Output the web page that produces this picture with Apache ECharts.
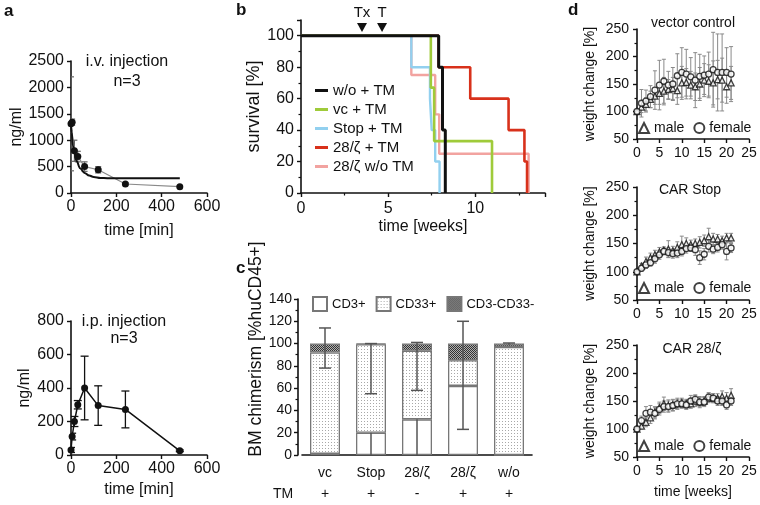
<!DOCTYPE html>
<html><head><meta charset="utf-8">
<script src="https://cdn.jsdelivr.net/npm/echarts@6/dist/echarts.min.js"></script>
<style>html,body{margin:0;padding:0;background:#fff}#c{width:760px;height:505px}</style>
</head><body><div id="c"></div>
<script>
// ---------- Panel a : pharmacokinetics ----------
const ivTime = [0, 5, 15, 30, 60, 120, 240, 480];
const ivConc = [1310, 1340, 800, 690, 500, 440, 170, 120];
const ivErr  = [890, 60, 200, 100, 90, 60, 20, 10];
const ivFitTime = [0, 3, 8, 15, 25, 40, 60, 80, 100, 130, 160, 200, 480];
const ivFitConc = [1310, 1150, 900, 750, 600, 470, 380, 330, 305, 285, 280, 278, 278];
const ipTime = [0, 5, 15, 30, 60, 120, 240, 480];
const ipConc = [30, 110, 200, 300, 400, 295, 272, 25];
const ipErr  = [15, 20, 30, 25, 190, 118, 110, 5];

// ---------- Panel b : survival ----------
const woWeeks = [0, 7.9, 8.12, 8.28];          const woSurv = [100, 80, 40, 0];
const vcWeeks = [0, 7.45, 7.64, 10.96];        const vcSurv = [100, 67, 33, 0];
const stopWeeks = [0, 6.33, 7.4, 7.5, 7.7, 7.95]; const stopSurv = [100, 80, 60, 40, 20, 0];
const car28Weeks = [0, 7.9, 9.71, 11.91, 12.82, 12.97]; const car28Surv = [100, 80, 60, 40, 20, 0];
const car28noWeeks = [0, 6.33, 7.7, 7.93, 13.06]; const car28noSurv = [100, 75, 50, 25, 0];
const bMarkers = ['Tx', 'T'];
const bMarkerWeeks = [3.5, 4.65];

// ---------- Panel c : BM chimerism ----------
const cCategories = ['vc', 'Stop', '28/ζ', '28/ζ', 'w/o'];
const cTM = ['+', '+', '-', '+', '+'];
const cCD3 = [1, 20, 32, 62, 0];
const cCD33 = [91, 79.5, 61.5, 23, 97];
const cNeg = [8, 0.5, 6.5, 15, 3];
// error bars: [category index, low, high, cap at low, cap at high]
const cErrors = [[0, 78, 114, 1, 1], [1, 0, 20, 0, 0], [1, 55, 100, 1, 1], [2, 0, 32, 0, 0], [2, 58, 101, 1, 1], [3, 23, 120, 1, 1], [4, 99, 100.5, 0, 1]];

// ---------- Panel d : weight change ----------
const dWeeks = [0,1,2,3,4,5,6,7,8,9,10,11,12,13,14,15,16,17,18,19,20,21];
const vcMale      = [100,108,113,122,128,133,137,140,142,138,152,153,148,145,150,157,155,152,158,157,145,152];
const vcMaleErr   = [3,10,12,15,15,20,25,18,20,25,30,25,25,25,30,30,30,40,35,40,30,30];
const vcFemale    = [100,115,119,127,139,148,155,148,150,165,171,168,163,157,164,166,168,176,171,171,171,168];
const vcFemaleErr = [3,25,20,20,35,45,40,25,30,40,45,45,35,50,40,35,40,68,70,70,45,50];
const stopMale      = [100,110,118,125,130,135,138,140,137,143,148,150,148,150,152,155,162,158,158,155,160,160];
const stopMaleErr   = [2,5,8,8,8,8,6,15,8,10,15,10,8,8,10,10,15,10,8,8,8,8];
const stopFemale    = [100,106,112,116,123,130,136,134,132,133,136,141,142,139,125,131,145,140,143,148,136,142];
const stopFemaleErr = [2,5,6,6,8,8,6,8,8,8,8,8,6,10,12,10,10,8,8,8,15,8];
const c28Male      = [100,105,112,120,130,138,145,142,143,145,147,145,145,150,148,150,155,155,155,158,155,160];
const c28MaleErr   = [2,5,8,10,10,10,12,10,10,10,8,8,8,10,10,8,8,8,8,10,10,12];
const c28Female    = [100,115,128,130,128,135,140,140,142,145,145,143,150,153,148,148,157,155,150,150,143,150];
const c28FemaleErr = [2,8,12,12,10,10,10,10,10,8,8,8,10,8,8,8,8,8,8,8,8,8];
const dTitles = ['vector control', 'CAR Stop', 'CAR 28/ζ'];

// ---------- helpers ----------
const FF = '"Liberation Sans", Arial, sans-serif';
const K = '#111';
const zip = (xs, ys) => xs.map((x, i) => [x, ys[i]]);
const plain = v => String(v);

function mkAxis(o) {
  const fs = o.fs || 15;
  const a = {
    type: o.type || 'value', gridIndex: o.grid,
    min: o.min, max: o.max, interval: o.interval,
    axisLine: {show: true, onZero: false, lineStyle: {color: K, width: 1.6}},
    axisTick: {show: o.tick !== false, length: 4, inside: false, lineStyle: {color: K, width: 1.4}},
    axisLabel: {color: K, fontFamily: FF, fontSize: fs, margin: o.margin || 6, formatter: o.formatter || plain},
    splitLine: {show: false},
    name: o.name || '', nameLocation: 'middle', nameGap: o.nameGap || 30,
    nameTextStyle: {color: K, fontFamily: FF, fontSize: o.nfs || 16}
  };
  if (o.namePad) a.nameTextStyle.padding = o.namePad;
  if (o.minor) a.minorTick = {show: true, splitNumber: o.minor, length: 2.5, lineStyle: {color: K, width: 1.2}};
  if (o.data) a.data = o.data;
  if (o.extraLabel) Object.assign(a.axisLabel, o.extraLabel);
  if (o.offset) a.offset = o.offset;
  return a;
}

function errSeries(axisIdx, xs, ys, es, color, cap, lw) {
  return {
    type: 'custom', xAxisIndex: axisIdx, yAxisIndex: axisIdx, z: 2, silent: true, clip: true,
    data: xs.map((x, i) => [x, ys[i], es[i]]),
    encode: {x: 0, y: 1},
    renderItem: function (params, api) {
      const x = api.value(0), y = api.value(1), e = api.value(2);
      const t = api.coord([x, y + e]), b = api.coord([x, y - e]);
      const st = {stroke: color, lineWidth: lw};
      return {type: 'group', children: [
        {type: 'line', shape: {x1: t[0], y1: t[1], x2: b[0], y2: b[1]}, style: st},
        {type: 'line', shape: {x1: t[0] - cap, y1: t[1], x2: t[0] + cap, y2: t[1]}, style: st},
        {type: 'line', shape: {x1: b[0] - cap, y1: b[1], x2: b[0] + cap, y2: b[1]}, style: st}
      ]};
    }
  };
}

function makePattern(size, draw) {
  const cv = document.createElement('canvas');
  cv.width = size; cv.height = size;
  draw(cv.getContext('2d'));
  return {image: cv, repeat: 'repeat'};
}
const dotPattern = makePattern(3, ctx => {
  ctx.fillStyle = '#fff'; ctx.fillRect(0, 0, 3, 3);
  ctx.fillStyle = '#a8a8a8'; ctx.fillRect(1, 1, 1, 1);
});
const densePattern = makePattern(2, ctx => {
  ctx.fillStyle = '#b0b0b0'; ctx.fillRect(0, 0, 2, 2);
  ctx.fillStyle = '#333'; ctx.fillRect(0, 0, 1, 1); ctx.fillRect(1, 1, 1, 1);
});

// ---------- layout ----------
const grids = [
  {left: 71, top: 61, width: 136, height: 132},   // a top
  {left: 71, top: 321, width: 136, height: 134},  // a bottom
  {left: 301, top: 20, width: 244, height: 173},  // b
  {left: 302, top: 299, width: 230, height: 156}, // c
  {left: 637, top: 29, width: 112, height: 110},  // d1
  {left: 637, top: 187, width: 112, height: 113}, // d2
  {left: 637, top: 345, width: 112, height: 112}  // d3
];

const xAxes = [
  mkAxis({grid: 0, min: 0, max: 600, interval: 200, name: 'time [min]', nameGap: 30, fs: 16}),
  mkAxis({grid: 1, min: 0, max: 600, interval: 200, name: 'time [min]', nameGap: 27, fs: 16}),
  mkAxis({grid: 2, min: 0, max: 14, interval: 5, minor: 2, name: 'time [weeks]', nameGap: 26, fs: 16, margin: 8,
          formatter: v => (v % 5 === 0 ? String(v) : '')}),
  mkAxis({grid: 3, type: 'category', data: cCategories, tick: false, fs: 14, margin: 8,
          formatter: (v, i) => v + '\n' + cTM[i], extraLabel: {lineHeight: 21}}),
  mkAxis({grid: 4, min: 0, max: 25, interval: 5, fs: 14, margin: 7}),
  mkAxis({grid: 5, min: 0, max: 25, interval: 5, fs: 14, margin: 7}),
  mkAxis({grid: 6, min: 0, max: 25, interval: 5, fs: 14, margin: 7, name: 'time [weeks]', nameGap: 28, nfs: 14})
];
const yAxes = [
  mkAxis({grid: 0, min: 0, max: 2500, interval: 500, name: 'ng/ml', nameGap: 44, fs: 16, margin: 7}),
  mkAxis({grid: 1, min: 0, max: 800, interval: 200, name: 'ng/ml', nameGap: 38, fs: 16, margin: 7}),
  mkAxis({grid: 2, min: 0, max: 110, interval: 20, minor: 2, name: 'survival [%]', nameGap: 36, fs: 16, nfs: 18, margin: 7,
          formatter: v => (v <= 100 ? String(v) : '')}),
  mkAxis({grid: 3, min: 0, max: 140, interval: 20, minor: 2, name: 'BM chimerism [%huCD45+]', nameGap: 26, fs: 14, nfs: 17.5, margin: 6, offset: 4,
          namePad: [0, 0, 0, 56]}),
  mkAxis({grid: 4, min: 50, max: 250, interval: 50, minor: 2, name: 'weight change [%]', nameGap: 40, fs: 14, nfs: 14, margin: 8}),
  mkAxis({grid: 5, min: 50, max: 250, interval: 50, minor: 2, name: 'weight change [%]', nameGap: 40, fs: 14, nfs: 14, margin: 8}),
  mkAxis({grid: 6, min: 50, max: 250, interval: 50, minor: 2, name: 'weight change [%]', nameGap: 40, fs: 14, nfs: 14, margin: 8})
];

const series = [];
// a top
series.push(errSeries(0, ivTime, ivConc, ivErr, '#666', 3, 1.2));
series.push({type: 'line', xAxisIndex: 0, yAxisIndex: 0, data: zip(ivTime, ivConc), z: 3,
  lineStyle: {color: '#8a8a8a', width: 1.2}, symbol: 'circle', symbolSize: 7, itemStyle: {color: K}});
series.push({type: 'line', xAxisIndex: 0, yAxisIndex: 0, data: zip(ivFitTime, ivFitConc), z: 4,
  smooth: 0.4, smoothMonotone: 'x', showSymbol: false, lineStyle: {color: K, width: 2}});
// a bottom
series.push(errSeries(1, ipTime, ipConc, ipErr, K, 4, 1.3));
series.push({type: 'line', xAxisIndex: 1, yAxisIndex: 1, data: zip(ipTime, ipConc), z: 3,
  lineStyle: {color: K, width: 1.5}, symbol: 'circle', symbolSize: 7, itemStyle: {color: K}});
// b
function survLine(name, xs, ys, color, w) {
  return {type: 'line', name: name, xAxisIndex: 2, yAxisIndex: 2, data: zip(xs, ys), step: 'end',
    showSymbol: false, lineStyle: {color: color, width: w}, itemStyle: {color: color}};
}
series.push(survLine('28/ζ w/o TM', car28noWeeks, car28noSurv, '#f2a3a0', 2.4));
series.push(survLine('28/ζ + TM', car28Weeks, car28Surv, '#d8311b', 2.6));
series.push(survLine('Stop + TM', stopWeeks, stopSurv, '#92d0ef', 2.4));
series.push(survLine('vc + TM', vcWeeks, vcSurv, '#9fcb3a', 2.6));
series.push(survLine('w/o + TM', woWeeks, woSurv, '#111', 3));
// c
const barBase = {type: 'bar', xAxisIndex: 3, yAxisIndex: 3, stack: 'bm', barWidth: 30};
series.push(Object.assign({}, barBase, {name: 'CD3+', data: cCD3, itemStyle: {color: '#fff', borderColor: '#777', borderWidth: 1.3}}));
series.push(Object.assign({}, barBase, {name: 'CD33+', data: cCD33, itemStyle: {color: dotPattern, borderColor: '#777', borderWidth: 1.3}}));
series.push(Object.assign({}, barBase, {name: 'CD3-CD33-', data: cNeg, itemStyle: {color: densePattern, borderColor: '#777', borderWidth: 1.3}}));
series.push({type: 'custom', xAxisIndex: 3, yAxisIndex: 3, z: 5, silent: true, data: cErrors,
  encode: {x: 0, y: [1, 2]},
  renderItem: function (params, api) {
    const i = api.value(0);
    const lo = api.coord([i, api.value(1)]), hi = api.coord([i, api.value(2)]);
    const st = {stroke: '#555', lineWidth: 1.5};
    const ch = [{type: 'line', shape: {x1: lo[0], y1: lo[1], x2: hi[0], y2: hi[1]}, style: st}];
    if (api.value(3)) ch.push({type: 'line', shape: {x1: lo[0] - 6, y1: lo[1], x2: lo[0] + 6, y2: lo[1]}, style: st});
    if (api.value(4)) ch.push({type: 'line', shape: {x1: hi[0] - 6, y1: hi[1], x2: hi[0] + 6, y2: hi[1]}, style: st});
    return {type: 'group', children: ch};
  }});
// d
const dSets = [[vcMale, vcMaleErr, vcFemale, vcFemaleErr], [stopMale, stopMaleErr, stopFemale, stopFemaleErr], [c28Male, c28MaleErr, c28Female, c28FemaleErr]];
dSets.forEach((s, k) => {
  const ax = 4 + k;
  series.push(errSeries(ax, dWeeks, s[0], s[1], '#8a8a8a', 2, 1));
  series.push(errSeries(ax, dWeeks, s[2], s[3], '#8a8a8a', 2, 1));
  series.push({type: 'scatter', name: 'male', xAxisIndex: ax, yAxisIndex: ax, data: zip(dWeeks, s[0]), z: 3,
    symbol: 'triangle', symbolSize: 6, itemStyle: {color: '#fff', borderColor: K, borderWidth: 1.3}});
  series.push({type: 'scatter', name: 'female', xAxisIndex: ax, yAxisIndex: ax, data: zip(dWeeks, s[2]), z: 4,
    symbol: 'circle', symbolSize: 6, itemStyle: {color: '#fff', borderColor: K, borderWidth: 1.3}});
});

const legendText = fs => ({color: K, fontFamily: FF, fontSize: fs});
const dLegend = top => ({orient: 'horizontal', left: 638, top: top, width: 140, itemWidth: 10, itemHeight: 10, itemGap: 9,
   selectedMode: false, padding: 0, textStyle: legendText(14), data: ['male', 'female']});
const legends = [
  {orient: 'vertical', left: 310, top: 78, icon: 'rect', itemWidth: 13, itemHeight: 3, itemGap: 4, selectedMode: false,
   textStyle: legendText(15), data: ['w/o + TM', 'vc + TM', 'Stop + TM', '28/ζ + TM', '28/ζ w/o TM']},
  {orient: 'horizontal', left: 307, top: 291, icon: 'rect', itemWidth: 14, itemHeight: 14, itemGap: 10, selectedMode: false,
   textStyle: legendText(13), data: ['CD3+', 'CD33+', 'CD3-CD33-']},
  dLegend(121), dLegend(281), dLegend(439)
];

function txt(t, x, y, fs, opts) {
  return {type: 'text', x: x, y: y, silent: true,
    style: {text: t, fill: K, font: (opts && opts.bold ? 'bold ' : '') + fs + 'px ' + FF,
      textAlign: (opts && opts.align) || 'center', textVerticalAlign: 'middle'}};
}
const graphics = [
  txt('a', 4, 11, 17, {bold: true, align: 'left'}),
  txt('b', 236, 10, 17, {bold: true, align: 'left'}),
  txt('c', 236, 268, 17, {bold: true, align: 'left'}),
  txt('d', 568, 10, 17, {bold: true, align: 'left'}),
  txt('i.v. injection', 127, 62, 16), txt('n=3', 127, 82, 16),
  txt('i.p. injection', 124, 322, 16), txt('n=3', 124, 339, 16),
  txt(dTitles[0], 693, 23, 14), txt(dTitles[1], 690, 190, 14), txt(dTitles[2], 692, 349, 14),
  txt('TM', 283, 494, 14)
];

const option = {
  animation: false,
  backgroundColor: '#fff',
  grid: grids, xAxis: xAxes, yAxis: yAxes, series: series, legend: legends, graphic: graphics
};
const chart = echarts.init(document.getElementById('c'), null, {renderer: 'canvas'});
chart.setOption(option);

// treatment markers (Tx, T) on the survival time axis
const extra = [];
bMarkerWeeks.forEach((w, i) => {
  const px = chart.convertToPixel({xAxisIndex: 2}, w);
  extra.push(txt(bMarkers[i], px, 13, 15));
  extra.push({type: 'polygon', silent: true, shape: {points: [[px - 5, 23], [px + 5, 23], [px, 32]]}, style: {fill: K}});
});
chart.setOption({graphic: graphics.concat(extra)});
</script>
</body></html>
